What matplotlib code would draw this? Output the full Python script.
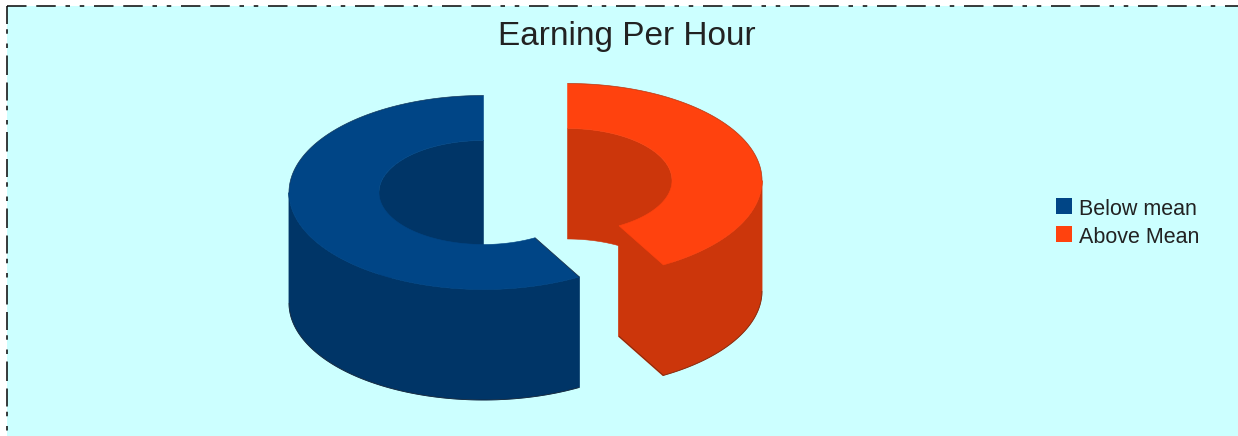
import numpy as np
import matplotlib
matplotlib.use("Agg")
import matplotlib.pyplot as plt
from matplotlib.patches import Polygon, Rectangle

# --- data ---
title = "Earning Per Hour"
categories = ["Below mean", "Above Mean"]
values = [58.2, 41.8]

# --- style ---
top_colors = ["#004586", "#ff420e"]
side_colors = ["#003567", "#cc360b"]
bg = "#ccffff"
centers = [(483.5, 192.5), (567.5, 180.5)]
A, B, a, b = 194.5, 97, 104.5, 52
DEPTH = 110.5

plt.rcParams["font.family"] = ["Liberation Sans", "DejaVu Sans"]
fig = plt.figure(figsize=(12.38, 4.36), dpi=100, facecolor="white")
ax = fig.add_axes([0, 0, 1, 1])
ax.set_xlim(0, 1238)
ax.set_ylim(436, 0)
ax.axis("off")

ax.add_patch(Rectangle((7, 6), 1231, 430, facecolor=bg, edgecolor="none", zorder=0))
px = 72 / 100
ax.plot([7, 1238], [6, 6], color="black", lw=1.5 * px, zorder=1,
        dashes=(13, 6.5, 13, 6.5, 3, 6.5, 3, 6.5), dash_capstyle="butt")
ax.plot([7, 7], [6, 436], color="black", lw=1.5 * px, zorder=1,
        dashes=(12, 3.5, 3, 6.5, 3, 5, 13, 5), dash_capstyle="butt")


def arc(c, ra, rb, t0, t1, dy=0, n=160):
    t = np.radians(np.linspace(t0, t1, n))
    return np.column_stack([c[0] + ra * np.cos(t), c[1] - rb * np.sin(t) + dy])


def strip(c, ra, rb, t0, t1):
    top = arc(c, ra, rb, t0, t1)
    bot = arc(c, ra, rb, t0, t1, DEPTH)
    return np.vstack([top, bot[::-1]])


def add(points, color, z, lw=0.4):
    ax.add_patch(Polygon(points, closed=True, facecolor=color, edgecolor=color,
                         lw=lw, zorder=z))


def edge(points, z, alpha=0.5):
    ax.plot(points[:, 0], points[:, 1], color="#301c10", lw=0.6, alpha=alpha,
            solid_capstyle="butt", zorder=z)


def visible_ranges(t0, t1, lo, hi):
    """Overlap of the angular span t0..t1 (t1>t0) with lo..hi."""
    s, e = max(t0, lo), min(t1, hi)
    return (s, e) if e > s else None


total = sum(values)
# Blue runs counter-clockwise from 12 o'clock, orange clockwise back to it
span0 = 360 * values[0] / total
spans = [(90, 90 + span0), (90 + span0, 450)]

for i, (t0, t1) in enumerate(spans):
    c, top, side = centers[i], top_colors[i], side_colors[i]
    z = 2 + i * 10
    # far part of the hole wall (angles 0..180 and 360..540 face the viewer)
    for lo, hi in [(0, 180), (360, 540)]:
        r = visible_ranges(t0, t1, lo, hi)
        if r:
            add(strip(c, a, b, *r), side, z)
    # cut face at the end of the orange slice, facing the viewer
    if i == 1:
        p = np.array([np.cos(np.radians(t0)), -np.sin(np.radians(t0))])
        inner = np.array(c) + p * [a, b]
        outer = np.array(c) + p * [A, B]
        add(np.array([inner, outer, outer + [0, DEPTH], inner + [0, DEPTH]]), side, z + 1, lw=1.2)
        edge(np.array([inner + [0, DEPTH], outer + [0, DEPTH]]), z + 4)
    # near outer wall (angles 180..360)
    r = visible_ranges(t0, t1, 180, 360)
    if r:
        add(strip(c, A, B, *r), side, z + 2, lw=0.6)
        edge(arc(c, A, B, r[0], r[1], DEPTH), z + 4)
    # top face
    add(np.vstack([arc(c, A, B, t0, t1), arc(c, a, b, t1, t0)]), top, z + 3)
    if i == 0:
        edge(arc(c, A, B, t0, 180), z + 4, alpha=0.3)
        p = np.array([np.cos(np.radians(t1)), -np.sin(np.radians(t1))])
        edge(np.array([np.array(c) + p * [a, b], np.array(c) + p * [A, B]]), z + 4)
    else:
        edge(arc(c, A, B, 360, t1), z + 4, alpha=0.3)

ax.text(627, 36, title, fontsize=24, color="#222222", ha="center", va="center", zorder=30)

for i, name in enumerate(categories):
    y = 198 + i * 28
    ax.add_patch(Rectangle((1056, y), 16, 16, facecolor=top_colors[i], edgecolor="none", zorder=30))
    ax.text(1079, y + 11, name, fontsize=15.5, color="#222222", ha="left", va="center", zorder=30)

fig.savefig("out.png", dpi=100, facecolor="white")
